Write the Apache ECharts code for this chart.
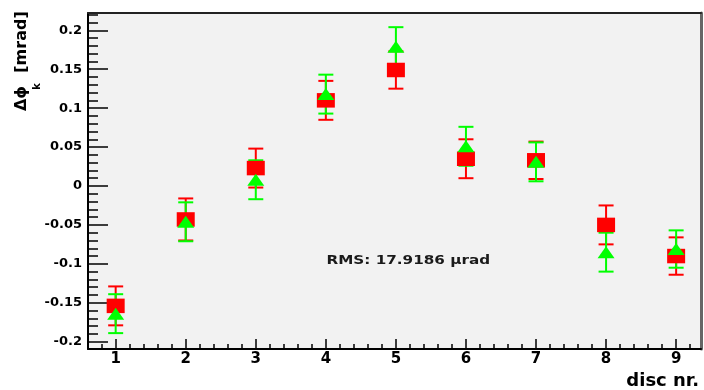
<!DOCTYPE html>
<html>
<head>
<meta charset="utf-8">
<script src="https://cdn.jsdelivr.net/npm/echarts@6/dist/echarts.min.js"></script>
<style>
  html, body { margin: 0; padding: 0; background: #ffffff; }
  #chart { width: 704px; height: 390px; }
</style>
</head>
<body>
<div id="chart"></div>
<script>
// Disc numbers along the x axis
const discs = [1, 2, 3, 4, 5, 6, 7, 8, 9];

// Alignment shift per disc [mrad], with uncertainties
const redShift   = [-0.154, -0.043, 0.023, 0.110, 0.149, 0.035, 0.033, -0.050, -0.090];
const redErr     = [0.025, 0.027, 0.025, 0.025, 0.024, 0.025, 0.024, 0.025, 0.024];
const greenShift = [-0.164, -0.046, 0.008, 0.118, 0.179, 0.051, 0.031, -0.085, -0.081];
const greenErr   = [0.025, 0.025, 0.025, 0.025, 0.025, 0.025, 0.025, 0.025, 0.024];

// Axis tick values and their labels
const xTickValues = [1, 2, 3, 4, 5, 6, 7, 8, 9];
const xTickLabels = ['1', '2', '3', '4', '5', '6', '7', '8', '9'];
const yTickValues = [-0.2, -0.15, -0.1, -0.05, 0, 0.05, 0.1, 0.15, 0.2];
const yTickLabels = ['-0.2', '-0.15', '-0.1', '-0.05', '0', '0.05', '0.1', '0.15', '0.2'];

const rmsText = 'RMS: 17.9186 \u03bcrad';

// Minor tick positions: x every 0.2, y every 0.01
const xMinor = [];
for (let i = 4; i <= 46; i++) xMinor.push(Math.round(i * 20) / 100);
const yMinor = [];
for (let i = -20; i <= 22; i++) yMinor.push(i / 100);

const FONT = 'DejaVu Sans';

function labelFor(values, labels) {
  return function (v) {
    for (let i = 0; i < values.length; i++) {
      if (Math.abs(values[i] - v) < 1e-9) return labels[i];
    }
    return '';
  };
}

function toPoints(ys, es) {
  return discs.map((d, i) => [d, ys[i], es[i]]);
}

// Vertical error bar with end caps
function errorBars(color) {
  return function (params, api) {
    const x = api.value(0), y = api.value(1), e = api.value(2);
    const hi = api.coord([x, y + e]);
    const lo = api.coord([x, y - e]);
    const h = 7.5;
    const style = { stroke: color, lineWidth: 2 };
    return {
      type: 'group',
      children: [
        { type: 'line', shape: { x1: hi[0], y1: hi[1], x2: lo[0], y2: lo[1] }, style: style },
        { type: 'line', shape: { x1: hi[0] - h, y1: hi[1], x2: hi[0] + h, y2: hi[1] }, style: style },
        { type: 'line', shape: { x1: lo[0] - h, y1: lo[1], x2: lo[0] + h, y2: lo[1] }, style: style }
      ]
    };
  };
}

const X_MIN = 0.605, X_MAX = 9.355;
const Y_MIN = -0.2094, Y_MAX = 0.2222;

const chart = echarts.init(document.getElementById('chart'), null, { renderer: 'canvas' });

chart.setOption({
  animation: false,
  backgroundColor: '#ffffff',
  grid: {
    left: 88, right: 3, top: 13, bottom: 41,
    show: true, backgroundColor: '#f2f2f2', borderWidth: 0
  },
  xAxis: [
    {
      type: 'value', position: 'bottom', min: X_MIN, max: X_MAX,
      axisLine: { show: true, onZero: false, lineStyle: { color: '#000', width: 2 } },
      axisTick: { show: true, inside: true, length: 10, customValues: xTickValues,
                  lineStyle: { color: '#000', width: 1.5 } },
      axisLabel: { show: true, customValues: xTickValues, margin: 3,
                   formatter: labelFor(xTickValues, xTickLabels),
                   fontFamily: FONT, fontWeight: 'bold', fontSize: 15, color: '#000' },
      splitLine: { show: false }
    },
    {
      type: 'value', position: 'bottom', min: X_MIN, max: X_MAX,
      axisLine: { show: false, onZero: false },
      axisTick: { show: true, inside: true, length: 5, customValues: xMinor,
                  lineStyle: { color: '#000', width: 1.5 } },
      axisLabel: { show: false },
      splitLine: { show: false }
    },
    {
      type: 'value', position: 'top', min: X_MIN, max: X_MAX,
      axisLine: { show: true, onZero: false, lineStyle: { color: '#222', width: 2 } },
      axisTick: { show: false }, axisLabel: { show: false }, splitLine: { show: false }
    }
  ],
  yAxis: [
    {
      type: 'value', position: 'left', min: Y_MIN, max: Y_MAX,
      axisLine: { show: true, onZero: false, lineStyle: { color: '#000', width: 2 } },
      axisTick: { show: true, inside: true, length: 20, customValues: yTickValues,
                  lineStyle: { color: '#000', width: 1.5 } },
      axisLabel: { show: true, customValues: yTickValues, margin: 6,
                   formatter: labelFor(yTickValues, yTickLabels),
                   fontFamily: FONT, fontWeight: 'bold', fontSize: 13, color: '#000' },
      splitLine: { show: false }
    },
    {
      type: 'value', position: 'left', min: Y_MIN, max: Y_MAX,
      axisLine: { show: false, onZero: false },
      axisTick: { show: true, inside: true, length: 10, customValues: yMinor,
                  lineStyle: { color: '#000', width: 1.5 } },
      axisLabel: { show: false },
      splitLine: { show: false }
    },
    {
      type: 'value', position: 'right', min: Y_MIN, max: Y_MAX,
      axisLine: { show: true, onZero: false, lineStyle: { color: '#666', width: 3 } },
      axisTick: { show: false }, axisLabel: { show: false }, splitLine: { show: false }
    }
  ],
  series: [
    {
      type: 'custom', name: 'red errors', xAxisIndex: 0, yAxisIndex: 0,
      renderItem: errorBars('#ff0000'), encode: { x: 0, y: 1 },
      data: toPoints(redShift, redErr), silent: true
    },
    {
      type: 'scatter', name: 'red', xAxisIndex: 0, yAxisIndex: 0,
      symbol: 'rect', symbolSize: [18, 14.5],
      itemStyle: { color: '#ff0000', opacity: 1 },
      data: toPoints(redShift, redErr), silent: true
    },
    {
      type: 'custom', name: 'green errors', xAxisIndex: 0, yAxisIndex: 0,
      renderItem: errorBars('#00ff00'), encode: { x: 0, y: 1 },
      data: toPoints(greenShift, greenErr), silent: true
    },
    {
      type: 'scatter', name: 'green', xAxisIndex: 0, yAxisIndex: 0,
      symbol: 'triangle', symbolSize: [17, 12],
      itemStyle: { color: '#00ff00', opacity: 1 },
      data: toPoints(greenShift, greenErr), silent: true
    }
  ],
  graphic: [
    {
      type: 'text', x: 326.5, y: 261, scaleX: 1.17, silent: true,
      style: { text: rmsText, x: 0, y: 0, align: 'left', verticalAlign: 'middle',
               font: 'bold 13px "DejaVu Sans"', fill: '#1a1a1a' }
    },
    {
      type: 'text', x: 699, y: 381, silent: true,
      style: { text: 'disc nr.', x: 0, y: 0, align: 'right', verticalAlign: 'middle',
               font: 'bold 18px "DejaVu Sans"', fill: '#000' }
    },
    {
      type: 'text', x: 22, y: 42, rotation: Math.PI / 2, silent: true,
      style: { text: '[mrad]', x: 0, y: 0, align: 'center', verticalAlign: 'middle',
               font: 'bold 16px "DejaVu Sans"', fill: '#000' }
    },
    {
      type: 'text', x: 21.5, y: 98.5, rotation: Math.PI / 2, silent: true,
      style: { text: '\u0394\u03d5', x: 0, y: 0, align: 'center', verticalAlign: 'middle',
               font: 'bold 16px "DejaVu Sans"', fill: '#000' }
    },
    {
      type: 'text', x: 37.5, y: 86.5, rotation: Math.PI / 2, silent: true,
      style: { text: 'k', x: 0, y: 0, align: 'center', verticalAlign: 'middle',
               font: 'bold 10px "DejaVu Sans"', fill: '#000' }
    }
  ]
});
</script>
</body>
</html>
